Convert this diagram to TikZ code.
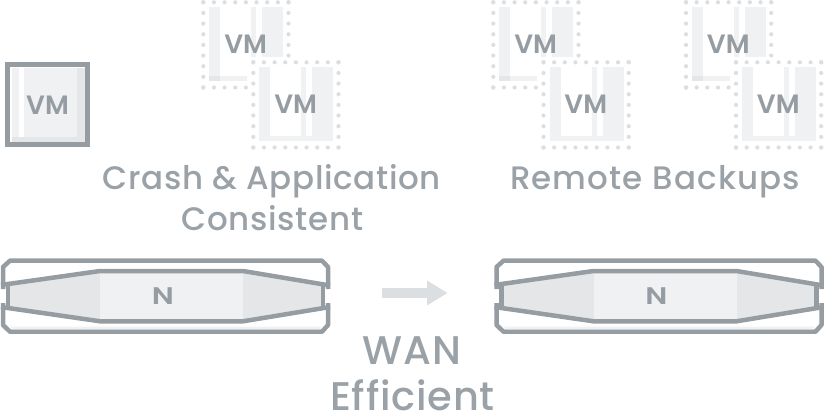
\documentclass[tikz,border=0pt]{standalone}
\usepackage{fontspec}
\setmainfont{Poppins}
\newfontfamily\labelfont[LetterSpace=2,Ligatures=NoCommon]{Poppins Medium}
\newfontfamily\remotefont[LetterSpace=3.5,Ligatures=NoCommon]{Poppins Medium}
\newfontfamily\vmfont{Poppins SemiBold}
\usetikzlibrary{arrows.meta}

\definecolor{slate}{HTML}{959DA3}
\definecolor{slatetext}{HTML}{9AA2A8}
\definecolor{pale}{HTML}{F0F1F3}
\definecolor{bargray}{HTML}{E5E6E8}
\definecolor{dotgray}{HTML}{DCDFE1}

\tikzset{
  vmtext/.style={text=slate, inner sep=0pt, font={\vmfont\fontsize{26.5}{26.5}\selectfont}},
  captext/.style={text=slatetext, anchor=base, inner sep=0pt, font={\labelfont\fontsize{32.5}{32.5}\selectfont}},
  wantext/.style={captext, font={\labelfont\fontsize{40}{40}\selectfont}},
  casing/.style={draw=slate, line width=4.5pt, line join=round},
  ghostvm/.pic={
    \fill [white] (-3,-3) rectangle (89,89);
    \fill [pale] (6,5) rectangle (17,79);
    \fill [pale] (48,5) rectangle (53,55);
    \fill [pale] (59,5) rectangle (80,55);
    \fill [pale] (6,74) rectangle (44,79);
    \fill [bargray] (6,74) rectangle (17,79);
    \foreach \i in {0,...,8} {
      \fill [dotgray] (\i*10.65,0) circle (2.1);
      \fill [dotgray] (\i*10.65,85.2) circle (2.1);
      \fill [dotgray] (0,\i*10.65) circle (2.1);
      \fill [dotgray] (85.2,\i*10.65) circle (2.1);
    }
    \node (-label) at (42.3,42.4) [vmtext] {VM};
  },
  ghostvmfull/.pic={
    \fill [white] (-3,-3) rectangle (89,89);
    \fill [pale] (6,5) rectangle (17,79);
    \fill [pale] (48,5) rectangle (53,79);
    \fill [pale] (59,5) rectangle (80,79);
    \fill [pale] (6,74) rectangle (80,79);
    \foreach \i in {0,...,8} {
      \fill [dotgray] (\i*10.65,0) circle (2.1);
      \fill [dotgray] (\i*10.65,85.2) circle (2.1);
      \fill [dotgray] (0,\i*10.65) circle (2.1);
      \fill [dotgray] (85.2,\i*10.65) circle (2.1);
    }
    \node (-label) at (42.3,42.4) [vmtext] {VM};
  },
  nodebox/.pic={
    % top and bottom plates
    \draw [casing] (3,289) -- (3,267) -- (10,260.7) -- (322,260.7) -- (328,267) -- (328,289);
    \draw [casing] (3,303) -- (3,325) -- (10,331.7) -- (322,331.7) -- (328,325) -- (328,303);
    \fill [pale] (10,326.5) -- (322,326.5) -- (320,329.4) -- (12,329.4) -- cycle;
    % lens
    \fill [bargray] (8,285) -- (100,271) -- (243,271) -- (323,285) -- (323,307) -- (243,321.3) -- (100,321.3) -- (8,307) -- cycle;
    \fill [pale] (100,271) rectangle (243,321.3);
    \draw [draw=slate, line width=4.5pt] (8,284) -- (8,308) (323,284) -- (323,308);
    \draw [casing] (1,285) -- (100,271) -- (243,271) -- (330,285.5);
    \draw [casing] (1,307) -- (100,321.3) -- (243,321.3) -- (330,307);
    \node (-label) at (163,296.5) [vmtext, font={\vmfont\fontsize{24}{24}\selectfont}] {\scalebox{1.25}[1]{N}};
  },
}

\begin{document}
\begin{tikzpicture}[x=1pt, y=-1pt]
\useasboundingbox (0,0) rectangle (824,412);

% source vm
\fill [pale] (12,68) rectangle (85,142);
\fill [white] (18.7,68) rectangle (24,142);
\fill [bargray] (77.3,68) rectangle (85,142);
\fill [bargray] (12,136.7) rectangle (85,142);
\draw [draw=slate, line width=5pt] (7.8,64.8) rectangle (87.5,144.5);
\node (vmsource) at (47.5,105) [vmtext] {VM};

% snapshots
\pic (vmA) at (203.3,2.3) {ghostvm};
\pic (vmB) at (253.3,62.3) {ghostvmfull};
\pic (vmC) at (493.3,2.3) {ghostvm};
\pic (vmD) at (543.5,62.3) {ghostvmfull};
\pic (vmE) at (686,2.3) {ghostvm};
\pic (vmF) at (736,62.3) {ghostvmfull};

\node (crash) at (272,189.5) [captext] {Crash \& Application};
\node (consistent) at (272.5,230) [captext] {Consistent};
\node (remote) at (655,189.5) [captext, font={\remotefont\fontsize{32.5}{32.5}\selectfont}] {Remote Backups};

\pic (local) at (0,0) {nodebox};
\pic (remotebox) at (493.5,0) {nodebox};

\coordinate (wanfrom) at (381.7,293);
\coordinate (wanto) at (447.7,293);
\draw [-{Triangle[length=20.7pt,width=23.4pt]}, draw=dotgray, fill=dotgray, line width=9.4pt] (wanfrom) -- (wanto);

\node (wan) at (412,364) [wantext] {WAN};
\node (efficient) at (412.5,410) [wantext] {Efficient};

\end{tikzpicture}
\end{document}
